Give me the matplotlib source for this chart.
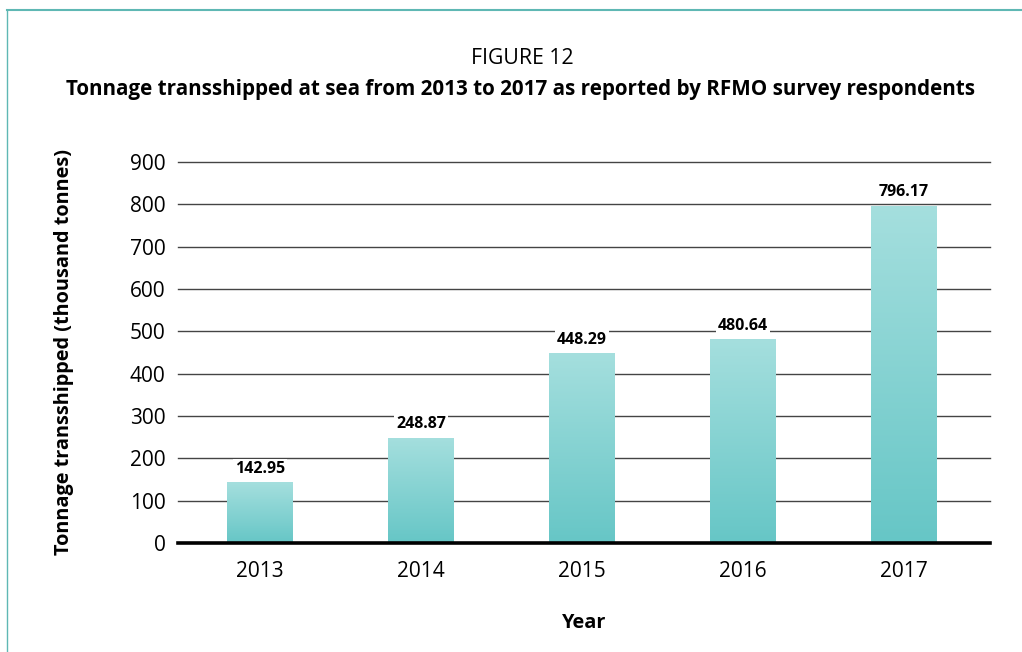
import numpy as np
import matplotlib
matplotlib.use("Agg")
import matplotlib.pyplot as plt
from matplotlib.colors import LinearSegmentedColormap
from matplotlib.lines import Line2D

plt.rcParams['font.family'] = ['Open Sans', 'DejaVu Sans']

years = ['2013', '2014', '2015', '2016', '2017']
tonnage = [142.95, 248.87, 448.29, 480.64, 796.17]
yticks = [0, 100, 200, 300, 400, 500, 600, 700, 800, 900]

fig = plt.figure(figsize=(10.22, 6.52), dpi=100)
ax = fig.add_axes([0.1742, 0.1672, 0.7945, 0.5844])

x = np.arange(len(years))
bar_w = 0.41
bars = ax.bar(x, tonnage, width=bar_w, color='none', edgecolor='none', zorder=3)

# vertical teal gradient inside each bar
cmap = LinearSegmentedColormap.from_list('teal', ['#66c6c6', '#a5dfde'])
grad = np.linspace(0, 1, 256).reshape(-1, 1)
for b in bars:
    x0, w, h = b.get_x(), b.get_width(), b.get_height()
    im = ax.imshow(grad, cmap=cmap, origin='lower', aspect='auto',
                   extent=(x0, x0 + w, 0, h), zorder=3)
    im.set_clip_path(b)

ax.set_xlim(-0.51, 4.535)
ax.set_ylim(0, 900)

for t in yticks[1:]:
    ax.axhline(t, color='#444444', lw=1.0, zorder=1, clip_on=False)
ax.axhline(0, color='black', lw=2.6, zorder=4, clip_on=False)

for xi, v in zip(x, tonnage):
    ax.text(xi, v + 13, f'{v:.2f}', ha='center', va='bottom', fontsize=11.5,
            fontweight='bold', zorder=5,
            bbox=dict(facecolor='white', edgecolor='none', pad=1.5))

for s in ax.spines.values():
    s.set_visible(False)
ax.set_yticks(yticks)
ax.set_yticklabels([str(t) for t in yticks], fontsize=15)
ax.set_xticks(x)
ax.set_xticklabels(years, fontsize=15)
ax.tick_params(axis='both', length=0)
ax.tick_params(axis='y', pad=9)
ax.tick_params(axis='x', pad=13)

ax.set_ylabel('Tonnage transshipped (thousand tonnes)', fontsize=14.3,
              fontweight='bold', labelpad=40)
ax.set_xlabel('Year', fontsize=14.3, fontweight='bold', labelpad=22)

fig.text(0.511, 0.911, 'FIGURE 12', ha='center', va='center', fontsize=15.3)
fig.text(0.509, 0.862,
         'Tonnage transshipped at sea from 2013 to 2017 as reported by RFMO survey respondents',
         ha='center', va='center', fontsize=14.9, fontweight='bold')

# frame lines along top and left edges
fig.add_artist(Line2D([0.0068, 1.0], [0.985, 0.985], transform=fig.transFigure,
                      color='#5fb8b4', lw=1.5))
fig.add_artist(Line2D([0.0068, 0.0068], [0.0, 0.985], transform=fig.transFigure,
                      color='#5fb8b4', lw=1.0))

fig.savefig('out.png', dpi=100)
